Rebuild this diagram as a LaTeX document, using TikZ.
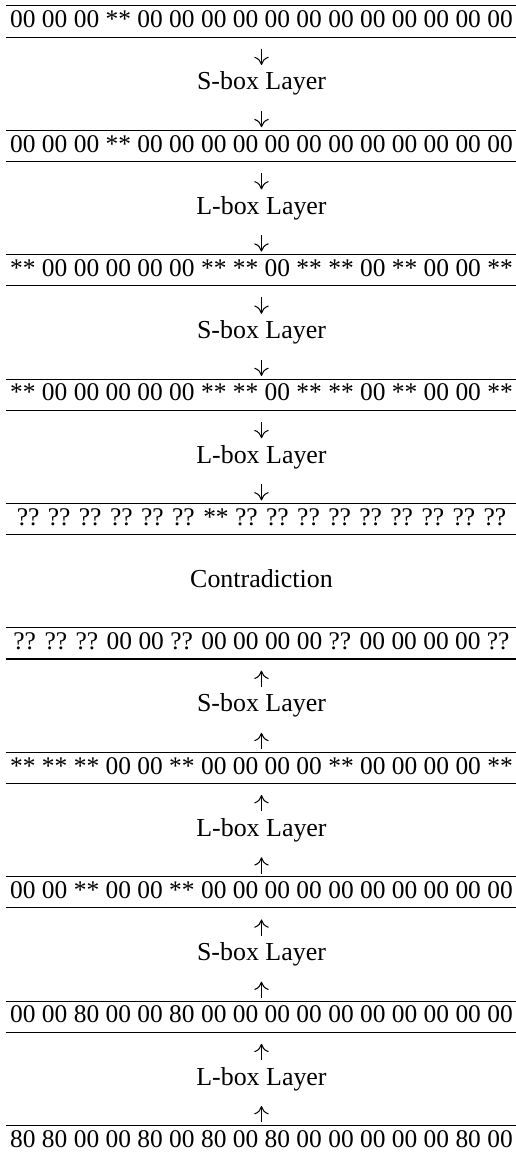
\documentclass[tikz,border=0pt]{standalone}
\usepackage{fontspec}
\setmainfont{Liberation Serif}
\usepackage{tikz}
\usetikzlibrary{arrows.meta,positioning}

\begin{document}
\begin{tikzpicture}[>={To[length=3.2pt,width=5.6pt]}, x=1pt, y=1pt, node distance=12pt,
	font=\fontsize{10}{12}\selectfont,
	row/.style={font=\fontsize{9.82}{12}\selectfont, minimum width=197.4pt, inner sep=0pt, outer sep=0pt, text height=8.4pt, text depth=3.6pt},
	layer/.style={inner sep=0pt, outer sep=0pt, text height=8.4pt, text depth=3.6pt},
	godown/.style={shorten <=4.5pt, shorten >=1.2pt},
	goup/.style={shorten <=1.2pt, shorten >=4.5pt}]
	\useasboundingbox (0,0) rectangle (199.1,-445.7);
	
	% Nodes, forward direction {r1, l1, r2, ...}
	\node [row, anchor=north] 	(r1) at (100.9,-2.3) {00 00 00 ** 00 00 00 00 00 00 00 00 00 00 00 00};
	\node [layer] 	(l1) [below=of r1] {S-box Layer};
	\node [row] 	(r2) [below=of l1] {00 00 00 ** 00 00 00 00 00 00 00 00 00 00 00 00};
	\node [layer] 	(l2) [below=of r2] {L-box Layer};
	\node [row] 	(r3) [below=of l2] {** 00 00 00 00 00 ** ** 00 ** ** 00 ** 00 00 **};
	\node [layer] 	(l3) [below=of r3] {S-box Layer};
	\node [row] 	(r4) [below=of l3] {** 00 00 00 00 00 ** ** 00 ** ** 00 ** 00 00 **};
	\node [layer] 	(l4) [below=of r4] {L-box Layer};
	\node [row] 	(r5) [below=of l4] {?? ?? ?? ?? ?? ?? ** ?? ?? ?? ?? ?? ?? ?? ?? ??};
	
	\node [layer] 	(c) [below=of r5] {Contradiction};
	
	% Nodes, backward direction {r6, l5, r7, ...}
	\node [row] 	(r6) [below=of c]  {?? ?? ?? 00 00 ?? 00 00 00 00 ?? 00 00 00 00 ??};
	\node [layer] 	(l5) [below=of r6] {S-box Layer};
	\node [row] 	(r7) [below=of l5] {** ** ** 00 00 ** 00 00 00 00 ** 00 00 00 00 **};
	\node [layer] 	(l6) [below=of r7] {L-box Layer};
	\node [row] 	(r8) [below=of l6] {00 00 ** 00 00 ** 00 00 00 00 00 00 00 00 00 00};
	\node [layer] 	(l7) [below=of r8] {S-box Layer};
	\node [row] 	(r9) [below=of l7] {00 00 80 00 00 80 00 00 00 00 00 00 00 00 00 00};
	\node [layer] 	(l8) [below=of r9] {L-box Layer};
	\node [row] 	(r10) [below=of l8] {80 80 00 00 80 00 80 00 80 00 00 00 00 00 80 00};
	
	% Rules
	\draw (r1.north west) -- (r1.north east);
	\draw (r1.south west) -- (r1.south east);
	\draw (r2.north west) -- (r2.north east);
	\draw (r2.south west) -- (r2.south east);
	\draw (r3.north west) -- (r3.north east);
	\draw (r3.south west) -- (r3.south east);
	\draw (r4.north west) -- (r4.north east);
	\draw (r4.south west) -- (r4.south east);
	\draw (r5.north west) -- (r5.north east);
	\draw (r5.south west) -- (r5.south east);
	\draw (r6.north west) -- (r6.north east);
	\draw (r6.south west) -- (r6.south east);
	\draw (r7.north west) -- (r7.north east);
	\draw (r7.south west) -- (r7.south east);
	\draw (r8.north west) -- (r8.north east);
	\draw (r8.south west) -- (r8.south east);
	\draw (r9.north west) -- (r9.north east);
	\draw (r9.south west) -- (r9.south east);
	\draw (r10.north west) -- (r10.north east);
	
	% Paths
	\path [->] 	(r1) edge [godown] (l1);
	\path [->] 	(l1) edge [godown] (r2);
	\path [->] 	(r2) edge [godown] (l2);
	\path [->] 	(l2) edge [godown] (r3);
	\path [->] 	(r3) edge [godown] (l3);
	\path [->] 	(l3) edge [godown] (r4);
	\path [->] 	(r4) edge [godown] (l4);
	\path [->] 	(l4) edge [godown] (r5);
	
	\path [->] 	(l5) edge [goup] (r6);
	\path [->] 	(r7) edge [goup] (l5);
	\path [->] 	(l6) edge [goup] (r7);
	\path [->] 	(r8) edge [goup] (l6);
	\path [->] 	(l7) edge [goup] (r8);
	\path [->] 	(r9) edge [goup] (l7);
	\path [->] 	(l8) edge [goup] (r9);
	\path [->] 	(r10) edge [goup] (l8);
	
\end{tikzpicture}
\end{document}
